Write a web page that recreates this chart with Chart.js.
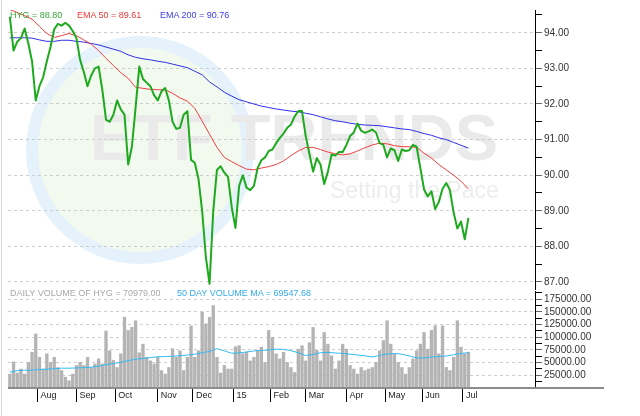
<!DOCTYPE html>
<html>
<head>
<meta charset="utf-8">
<script src="https://cdn.jsdelivr.net/npm/chart.js@4.4.1/dist/chart.umd.min.js"></script>
<style>
  html, body { margin: 0; padding: 0; background: #fff; }
  #wrap { position: relative; width: 640px; height: 416px; overflow: hidden; font-family: "Liberation Sans", Arial, sans-serif; }
  canvas { position: absolute; left: 0; }
  .lbl { position: absolute; font-size: 9px; line-height: 10px; white-space: nowrap; }
  .frame { position: absolute; left: 1px; top: 0; width: 1px; height: 416px; background: #d4d4d4; }
</style>
</head>
<body>
<div id="wrap">
  <canvas id="price" width="640" height="290" style="top:0"></canvas>
  <canvas id="vol" width="640" height="126" style="top:290px"></canvas>
  <div class="frame"></div>
  <span class="lbl" id="lblPrice" style="left:10px;top:10px;color:#3aa83a"></span>
  <span class="lbl" id="lblEma50" style="left:77px;top:10px;color:#ee3b3b"></span>
  <span class="lbl" id="lblEma200" style="left:160px;top:10px;color:#3b3bee"></span>
  <span class="lbl" id="lblVol" style="left:10px;top:288px;color:#a8a8a8"></span>
  <span class="lbl" id="lblVolMA" style="left:177px;top:288px;color:#33aaee"></span>
</div>
<script>
// HYG daily chart, Jul 2014 - Jul 2015 (x = trading day index)
const monthLabels = ['Aug', 'Sep', 'Oct', 'Nov', 'Dec', '15', 'Feb', 'Mar', 'Apr', 'May', 'Jun', 'Jul'];
const monthIdx = [15, 36, 57, 80, 99, 121, 141, 160, 182, 203, 223, 245];

// price, one value every 2 trading days
const priceVals = [
  94.45, 93.5, 93.75, 93.85, 94.12, 93.7, 93.2, 92.1, 92.5, 92.75,
  93.2, 93.6, 94.1, 94.25, 94.2, 94.28, 94.2, 94.05, 93.85, 93.24,
  92.9, 92.5, 92.8, 93.0, 93.05, 92.4, 91.56, 91.5, 91.7, 92.1,
  91.85, 91.7, 90.3, 90.8, 91.9, 93.05, 92.7, 92.6, 92.5, 92.25,
  92.1, 92.35, 92.45, 92.1, 91.5, 91.3, 91.33, 91.7, 91.8, 90.43,
  90.35, 89.9, 89.0, 87.7, 86.95, 89.0, 90.15, 90.25, 90.07, 89.95,
  89.1, 88.52, 89.7, 90.0, 89.65, 89.58, 89.7, 90.2, 90.42, 90.5,
  90.68, 90.72, 90.9, 91.05, 91.17, 91.33, 91.42, 91.65, 91.8, 91.8,
  91.1, 90.6, 90.1, 90.48, 90.3, 89.75, 90.1, 90.58, 90.55, 90.65,
  90.65, 90.85, 91.1, 91.2, 91.45, 91.25, 91.19, 91.23, 91.28, 91.2,
  90.9, 90.85, 90.5, 90.75, 90.7, 90.4, 90.72, 90.68, 90.7, 90.85,
  90.8, 90.2, 89.6, 89.4, 89.55, 89.05, 89.25, 89.62, 89.78, 89.58,
  88.95, 88.5, 88.7, 88.2, 88.80
];
const volVals = [
  28000, 52000, 30000, 38000, 28000, 51000, 71000, 107000, 61000, 38000,
  68000, 51000, 61000, 41000, 35000, 22000, 15000, 28000, 45000, 51000,
  45000, 61000, 41000, 48000, 58000, 48000, 113000, 74000, 55000, 41000,
  68000, 140000, 114000, 120000, 133000, 70000, 87000, 61000, 54000, 48000,
  61000, 35000, 28000, 41000, 78000, 61000, 74000, 35000, 61000, 123000,
  61000, 74000, 150000, 127000, 140000, 163000, 61000, 30000, 45000, 38000,
  38000, 82000, 84000, 68000, 71000, 54000, 61000, 74000, 81000, 51000,
  114000, 100000, 68000, 58000, 71000, 51000, 41000, 31000, 77000, 84000,
  54000, 90000, 120000, 75000, 54000, 110000, 87000, 64000, 38000, 54000,
  87000, 77000, 45000, 38000, 28000, 41000, 35000, 38000, 41000, 51000,
  74000, 94000, 133000, 87000, 68000, 51000, 41000, 28000, 41000, 58000,
  74000, 87000, 110000, 77000, 114000, 123000, 68000, 123000, 41000, 35000,
  61000, 133000, 81000, 68000, 70979
];

// averages, one value every 4 trading days
const ema50 = [
  94.65, 94.57, 94.48, 94.38, 94.18, 93.98, 93.87, 93.92, 93.98, 93.92,
  93.8, 93.68, 93.5, 93.28, 93.08, 92.88, 92.72, 92.47, 92.44, 92.41,
  92.4, 92.4, 92.3, 92.17, 92.08, 91.88, 91.52, 91.15, 90.78, 90.5,
  90.38, 90.27, 90.17, 90.15, 90.2, 90.24, 90.3, 90.4, 90.55, 90.68,
  90.78, 90.78, 90.72, 90.65, 90.6, 90.57, 90.6, 90.68, 90.77, 90.85,
  90.9, 90.88, 90.83, 90.8, 90.8, 90.78, 90.62, 90.48, 90.3, 90.15,
  90.0, 89.83, 89.61
];
const ema200 = [
  93.86, 93.86, 93.86, 93.85, 93.8, 93.76, 93.76, 93.79, 93.79, 93.76,
  93.74, 93.7, 93.66, 93.6, 93.54, 93.48, 93.38, 93.31, 93.27, 93.24,
  93.2, 93.17, 93.12, 93.07, 93.02, 92.92, 92.82, 92.62, 92.48, 92.33,
  92.22, 92.12, 92.06, 92.0, 91.94, 91.9, 91.86, 91.83, 91.8, 91.78,
  91.74, 91.7, 91.64, 91.58, 91.53, 91.5, 91.46, 91.43, 91.41, 91.4,
  91.39, 91.36, 91.33, 91.3, 91.28, 91.23, 91.17, 91.12, 91.05, 91.0,
  90.92, 90.84, 90.76
];
const volMA = [
  31000, 34000, 35000, 35000, 36500, 37000, 38000, 39000, 39000, 39500,
  40000, 41000, 43000, 46000, 48000, 50500, 54000, 56500, 58000, 60000,
  61500, 62000, 62500, 63500, 65000, 66500, 69500, 72000, 77500, 73000,
  68500, 69000, 71000, 73000, 74000, 75000, 76500, 76000, 73500, 69500,
  64000, 66000, 69500, 70000, 69000, 68000, 66500, 65000, 63500, 61000,
  64000, 67000, 68000, 66500, 63000, 59500, 59000, 61000, 62000, 63000,
  65500, 68000, 69547.68
];

const priceTicks = [87, 87.5, 88, 88.5, 89, 89.5, 90, 90.5, 91, 91.5, 92, 92.5, 93, 93.5, 94, 94.5];
const volTicks = [12500, 25000, 37500, 50000, 62500, 75000, 87500, 100000, 112500, 125000, 137500, 150000, 162500, 175000, 187500];

const last = a => a[a.length - 1];
document.getElementById('lblPrice').textContent = 'HYG = ' + last(priceVals).toFixed(2);
document.getElementById('lblEma50').textContent = 'EMA 50 = ' + last(ema50).toFixed(2);
document.getElementById('lblEma200').textContent = 'EMA 200 = ' + last(ema200).toFixed(2);
document.getElementById('lblVol').textContent = 'DAILY VOLUME OF HYG = ' + last(volVals).toFixed(2);
document.getElementById('lblVolMA').textContent = '50 DAY VOLUME MA = ' + last(volMA).toFixed(2);

Chart.defaults.font.family = '"Liberation Sans", Arial, sans-serif';

const step = n => (v, i) => ({x: i * n, y: v});

// watermark logo behind the price panel
const watermark = {
    id: 'watermark',
    beforeDraw(chart) {
        const ctx = chart.ctx;
        ctx.save();
        ctx.beginPath();
        ctx.arc(140, 150, 108, 0, Math.PI * 2);
        ctx.fillStyle = '#f2f9ee';
        ctx.fill();
        ctx.lineWidth = 12;
        ctx.strokeStyle = '#e5f2fb';
        ctx.stroke();
        ctx.fillStyle = '#eaeaea';
        ctx.font = 'bold 65px "Liberation Sans", Arial, sans-serif';
        ctx.fillText('ETF TRENDS', 90, 160);
        ctx.fillStyle = '#ededed';
        ctx.font = '23px "Liberation Sans", Arial, sans-serif';
        ctx.fillText('Setting the Pace', 330, 198);
        ctx.restore();
    }
};

// x axis line running past the right scale
const baseLine = {
    id: 'baseLine',
    afterDraw(chart) {
        const ctx = chart.ctx;
        ctx.save();
        ctx.fillStyle = '#8c8c8c';
        ctx.fillRect(8, chart.chartArea.bottom - 1, 596, 2);
        ctx.restore();
    }
};

const isMajorPrice = c => c.tick && Number.isInteger(c.tick.value);
const isMajorVol = c => c.tick && c.tick.value % 25000 === 0;

const rightAxis = (isMajor) => ({
    position: 'right',
    afterFit: s => { s.width = 105; s.paddingTop = 0; s.paddingBottom = 0; },
    grid: {
        color: c => isMajor(c) ? '#cdcdcd' : 'rgba(0,0,0,0)',
        lineWidth: 1,
        tickLength: 7,
        tickWidth: 1,
        tickColor: c => isMajor(c) ? '#666' : '#000',
    },
    border: {display: true, color: '#000', width: 1, dash: [3, 3]},
    ticks: {padding: 2, color: '#333', font: {size: 10}, autoSkip: false},
});

const priceAxis = rightAxis(isMajorPrice);
priceAxis.min = 86.775;
priceAxis.max = 94.64;
priceAxis.afterBuildTicks = s => { s.ticks = priceTicks.map(v => ({value: v})); };
priceAxis.ticks.callback = v => Number.isInteger(v) ? v.toFixed(2) : '';

new Chart(document.getElementById('price'), {
    type: 'line',
    data: {
        datasets: [
            {data: priceVals.map(step(2)), borderColor: '#1eaa1e', borderWidth: 2},
            {data: ema50.map(step(4)), borderColor: '#f04040', borderWidth: 1},
            {data: ema200.map(step(4)), borderColor: '#3030e6', borderWidth: 1},
        ],
    },
    options: {
        responsive: false,
        animation: false,
        events: [],
        layout: {padding: {left: 8, top: 10, right: 0, bottom: 0}},
        elements: {point: {radius: 0}, line: {tension: 0, borderJoinStyle: 'round'}},
        plugins: {legend: {display: false}, tooltip: {enabled: false}},
        scales: {
            x: {type: 'linear', min: -1, max: 284, display: false, offset: false},
            y: priceAxis,
        },
    },
    plugins: [watermark],
});

const volAxis = rightAxis(isMajorVol);
volAxis.min = 0;
volAxis.max = 191000;
volAxis.afterBuildTicks = s => { s.ticks = volTicks.map(v => ({value: v})); };
volAxis.ticks.callback = v => v % 25000 === 0 ? v.toFixed(2) : '';

new Chart(document.getElementById('vol'), {
    type: 'bar',
    data: {
        datasets: [
            {type: 'line', data: volMA.map(step(4)), borderColor: '#33bbf0', borderWidth: 1,
             pointRadius: 0, tension: 0, order: 0},
            {type: 'bar', data: volVals.map(step(2)), backgroundColor: '#b4b4b4',
             barPercentage: 0.9, categoryPercentage: 1, order: 1},
        ],
    },
    options: {
        responsive: false,
        animation: false,
        events: [],
        layout: {padding: {left: 8, top: 1, right: 0, bottom: 0}},
        plugins: {legend: {display: false}, tooltip: {enabled: false}},
        scales: {
            x: {
                type: 'linear', min: -1, max: 284, offset: false,
                afterBuildTicks: s => { s.ticks = monthIdx.map(v => ({value: v})); },
                afterFit: s => { s.height = 28; s.paddingLeft = 0; s.paddingRight = 0; },
                grid: {offset: false, drawOnChartArea: false, drawTicks: true, tickLength: 14,
                       tickColor: '#000', tickWidth: 1},
                border: {display: false},
                ticks: {
                    autoSkip: false, maxRotation: 0, align: 'start', labelOffset: 3,
                    padding: -12, color: '#222', font: {size: 9},
                    callback: (v, i) => monthLabels[i],
                },
            },
            y: volAxis,
        },
    },
    plugins: [baseLine],
});
</script>
</body>
</html>
